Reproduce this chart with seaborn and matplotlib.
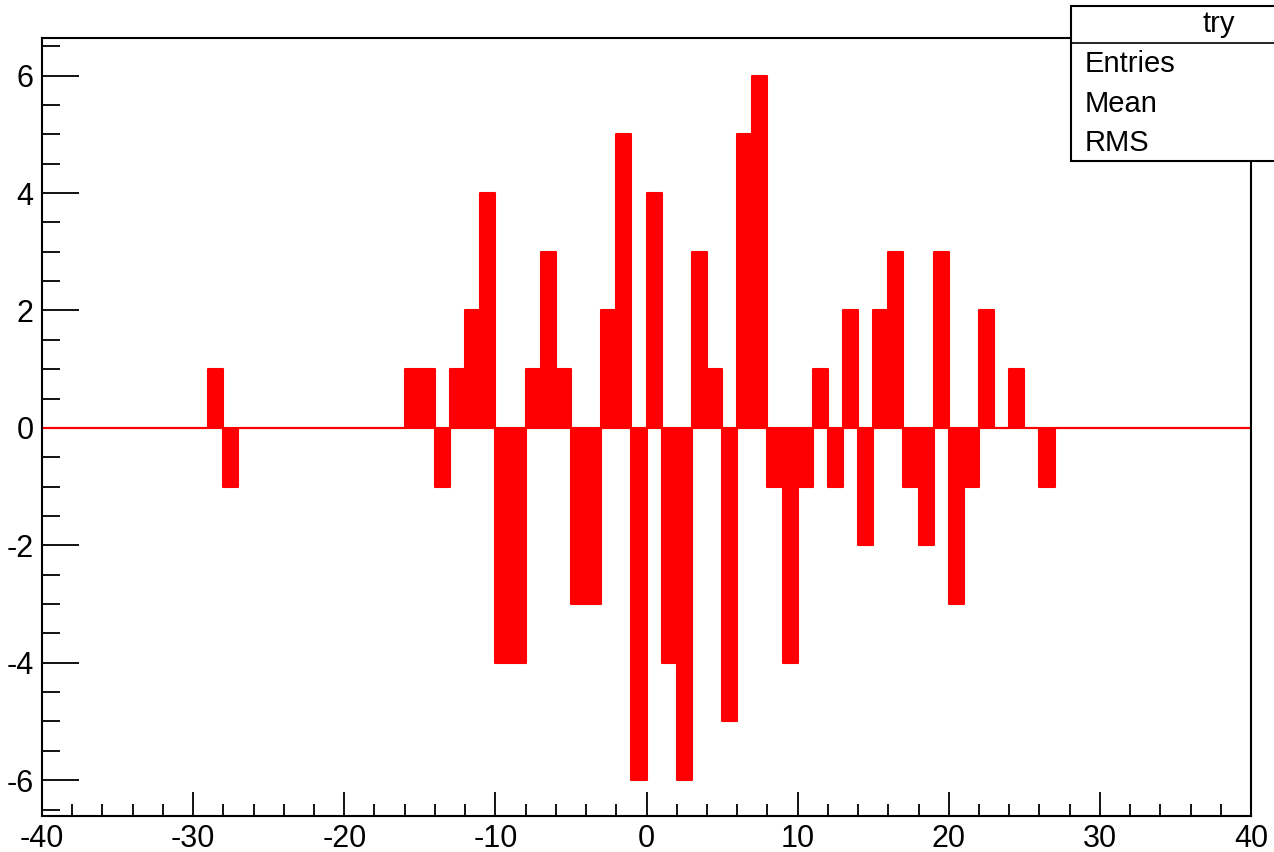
import numpy as np
import matplotlib
matplotlib.use("Agg")
import matplotlib.pyplot as plt
import seaborn as sns
from matplotlib.patches import Rectangle
from matplotlib.ticker import MultipleLocator

# Histogram "try": 80 bins of width 1 from -40 to 40
bin_edges = list(range(-40, 41))
bin_values = (
    [0] * 11                                   # -40 .. -30
    + [1, -1]                                  # -29, -28
    + [0] * 11                                 # -27 .. -17
    + [1, 1, -1, 1, 2, 4, -4, -4, 1, 3, 1,     # -16 .. -6
       -3, -3, 2, 5, -6,                       # -5 .. -1
       4, -4, -6, 3, 1, -5, 5, 6, -1, -4,      # 0 .. 9
       -1, 1, -1, 2, -2, 2, 3, -1, -2, 3,      # 10 .. 19
       -3, -1, 2, 0, 1, 0, -1]                 # 20 .. 26
    + [0] * 13                                 # 27 .. 39
)
stats_title = "try"
stats_labels = ["Entries", "Mean", "RMS"]
x_tick_labels = [-40, -30, -20, -10, 0, 10, 20, 30, 40]
y_tick_labels = [-6, -4, -2, 0, 2, 4, 6]

sns.set_theme(style="white")
plt.rcParams["font.family"] = ["Liberation Sans", "DejaVu Sans"]
plt.rcParams["axes.unicode_minus"] = False
plt.rcParams["text.color"] = "black"

fig = plt.figure(figsize=(12.74, 8.52), dpi=100)
ax = fig.add_axes([42 / 1274, (852 - 816) / 852, (1251 - 42) / 1274, (816 - 38) / 852])

centers = [e + 0.5 for e in bin_edges[:-1]]
sns.histplot(x=centers, weights=bin_values, bins=bin_edges, element="step",
             fill=True, color=(1, 0, 0), alpha=1.0, linewidth=1.5,
             edgecolor=(1, 0, 0), ax=ax)

ax.set_xlim(-40, 40)
ax.set_ylim(-6.61, 6.64)
ax.set_xlabel("")
ax.set_ylabel("")
ax.set_xticks(x_tick_labels)
ax.set_yticks(y_tick_labels)
ax.set_xticklabels([str(v) for v in x_tick_labels])
ax.set_yticklabels([str(v) for v in y_tick_labels])
ax.xaxis.set_minor_locator(MultipleLocator(2))
ax.yaxis.set_minor_locator(MultipleLocator(0.5))

ax.tick_params(axis="both", which="both", direction="in", colors="black",
               labelcolor="black", width=1.3, labelsize=22, top=False, right=False)
ax.tick_params(axis="x", which="major", length=17, pad=5.5, bottom=True)
ax.tick_params(axis="x", which="minor", length=8.6, bottom=True)
ax.tick_params(axis="y", which="major", length=26.5, pad=6, left=True)
ax.tick_params(axis="y", which="minor", length=13, left=True)

for s in ax.spines.values():
    s.set_visible(True)
    s.set_color("black")
    s.set_linewidth(1.5)
ax.grid(False)

# stats box (extends beyond the right edge of the figure)
box_left, box_right, box_top, box_bottom = 1071, 1367, 5.7, 161
sax = fig.add_axes([box_left / 1274, (852 - box_bottom) / 852,
                    (box_right - box_left) / 1274, (box_bottom - box_top) / 852])
sax.set_axis_off()
sax.add_patch(Rectangle((0, 0), 1, 1, transform=sax.transAxes, facecolor="white",
                        edgecolor="black", linewidth=1.5, clip_on=False))
div_y = (box_bottom - 42.7) / (box_bottom - box_top)
sax.plot([0, 1], [div_y, div_y], color="black", linewidth=1.2, transform=sax.transAxes,
         clip_on=False)
sax.text(0.5, (box_bottom - 24.2) / (box_bottom - box_top), stats_title,
         transform=sax.transAxes, ha="center", va="center", fontsize=21, color="black")
for lab, yc in zip(stats_labels, [63.5, 104, 143]):
    sax.text((1085 - box_left) / (box_right - box_left),
             (box_bottom - yc) / (box_bottom - box_top), lab,
             transform=sax.transAxes, ha="left", va="center", fontsize=21, color="black")

fig.savefig("out.png", dpi=100, facecolor="white")
